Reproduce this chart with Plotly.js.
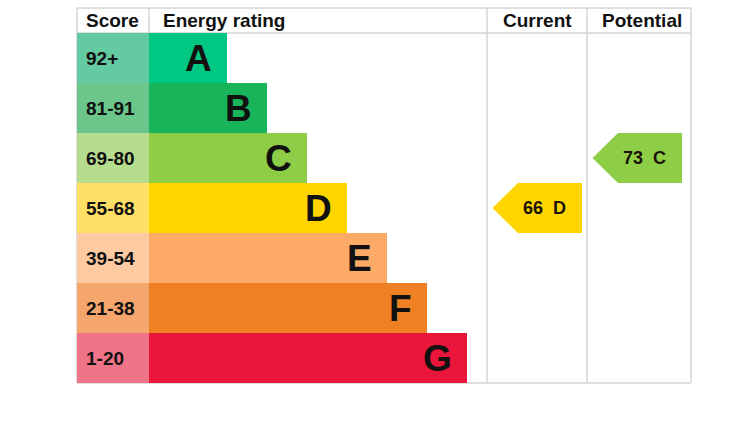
<!DOCTYPE html>
<html>
<head>
<meta charset="utf-8">
<script src="https://cdn.plot.ly/plotly-3.0.1.min.js"></script>
<style>
  html, body { margin: 0; padding: 0; background: #fff; }
  #chart { width: 732px; height: 422px; }
</style>
</head>
<body>
<div id="chart"></div>
<script>
// ---- data ----
const ratings = ['A', 'B', 'C', 'D', 'E', 'F', 'G'];
const scoreRanges = ['92+', '81-91', '69-80', '55-68', '39-54', '21-38', '1-20'];
const scoreMins = [92, 81, 69, 55, 39, 21, 1];
const currentScore = 66;
const potentialScore = 73;
const headers = ['Score', 'Energy rating', 'Current', 'Potential'];

// ---- styles ----
const barColors = ['#00c781', '#19b459', '#8dce46', '#ffd500', '#fcaa65', '#ef8023', '#e9153b'];
const scoreColors = ['#63caa2', '#6cc68b', '#b6dd8e', '#ffe066', '#fdcaa2', '#f5a66c', '#f07487'];
const FONT = 'Arial, "Liberation Sans", sans-serif';
const gridColor = '#d4d4d4';

// column geometry (axis units = px)
const scoreW = 72, ratingEnd = 410, curEnd = 510, totalEnd = 614;
const step = 40, firstLen = 78;

const rows = ratings.map((_, i) => i);
const barLens = ratings.map((_, i) => firstLen + step * i);

function bandOf(v) {
  for (let i = 0; i < scoreMins.length; i++) if (v >= scoreMins[i]) return i;
  return scoreMins.length - 1;
}

const traces = [];
traces.push({
  type: 'bar', orientation: 'h', y: rows, x: rows.map(() => scoreW), base: 0,
  width: 1, marker: {color: scoreColors, line: {width: 0}}, hoverinfo: 'skip'
});
traces.push({
  type: 'bar', orientation: 'h', y: rows, x: barLens, base: scoreW,
  width: 1, marker: {color: barColors, line: {width: 0}}, hoverinfo: 'skip'
});

const annotations = [];
function arrow(value, colLeft, colRight) {
  const b = bandOf(value);
  const tip = colLeft + 5.5, body = tip + 25.5, right = colRight - 5;
  traces.push({
    type: 'scatter', mode: 'lines', fill: 'toself',
    x: [tip, body, right, right, body, tip],
    y: [b, b - 0.5, b - 0.5, b + 0.5, b + 0.5, b],
    fillcolor: barColors[b], line: {width: 0}, hoverinfo: 'skip'
  });
  annotations.push({
    x: (body + right) / 2 - 6, y: b, xref: 'x', yref: 'y',
    text: value + '\u00a0\u00a0' + ratings[b], showarrow: false,
    font: {family: FONT, size: 18, color: '#1a1208', weight: 'bold'}
  });
}
arrow(currentScore, ratingEnd, curEnd);
arrow(potentialScore, curEnd, totalEnd - 4);

// header texts
const hdrFont = {family: FONT, size: 19, color: '#111', weight: 'bold'};
annotations.push({x: 7, y: -0.76, xref: 'x', yref: 'y', xanchor: 'left', text: headers[0], showarrow: false, font: hdrFont});
annotations.push({x: 84, y: -0.76, xref: 'x', yref: 'y', xanchor: 'left', text: headers[1], showarrow: false, font: hdrFont});
annotations.push({x: (ratingEnd + curEnd) / 2, y: -0.76, xref: 'x', yref: 'y', text: headers[2], showarrow: false, font: hdrFont});
annotations.push({x: (curEnd + totalEnd) / 2 + 3, y: -0.76, xref: 'x', yref: 'y', text: headers[3], showarrow: false, font: hdrFont});

// score labels and letters
rows.forEach(i => {
  annotations.push({x: 7, y: i, xref: 'x', yref: 'y', xanchor: 'left', text: scoreRanges[i], showarrow: false,
    font: {family: FONT, size: 19, color: '#111', weight: 'bold'}});
  annotations.push({x: scoreW + barLens[i] - 13, y: i + 0.01, xref: 'x', yref: 'y', xanchor: 'right', text: ratings[i], showarrow: false,
    font: {family: FONT, size: 37, color: '#111', weight: 'bold'}});
});

// frame lines
const ln = {color: gridColor, width: 1.5};
const shapes = [
  {type: 'line', xref: 'x', yref: 'y', x0: 0, x1: totalEnd, y0: -1, y1: -1, line: ln, layer: 'below'},
  {type: 'line', xref: 'x', yref: 'y', x0: 0, x1: totalEnd, y0: -0.5, y1: -0.5, line: ln, layer: 'below'},
  {type: 'line', xref: 'x', yref: 'y', x0: 0, x1: totalEnd, y0: 6.5, y1: 6.5, line: ln, layer: 'below'},
  {type: 'line', xref: 'x', yref: 'y', x0: 0, x1: 0, y0: -1, y1: 6.5, line: ln, layer: 'below'},
  {type: 'line', xref: 'x', yref: 'y', x0: scoreW, x1: scoreW, y0: -1, y1: -0.5, line: ln, layer: 'below'},
  {type: 'line', xref: 'x', yref: 'y', x0: ratingEnd, x1: ratingEnd, y0: -1, y1: 6.5, line: ln, layer: 'below'},
  {type: 'line', xref: 'x', yref: 'y', x0: curEnd, x1: curEnd, y0: -1, y1: 6.5, line: ln, layer: 'below'},
  {type: 'line', xref: 'x', yref: 'y', x0: totalEnd, x1: totalEnd, y0: -1, y1: 6.5, line: ln, layer: 'below'}
];

const layout = {
  width: 732, height: 422,
  margin: {l: 76, r: 40, t: 7, b: 38, pad: 0},
  paper_bgcolor: '#fff', plot_bgcolor: '#fff',
  showlegend: false, barmode: 'overlay', bargap: 0,
  xaxis: {range: [-1, 615], visible: false, fixedrange: true},
  yaxis: {range: [6.52, -1.02], visible: false, fixedrange: true},
  annotations: annotations, shapes: shapes
};

Plotly.newPlot('chart', traces, layout, {staticPlot: true, displayModeBar: false});
</script>
</body>
</html>
